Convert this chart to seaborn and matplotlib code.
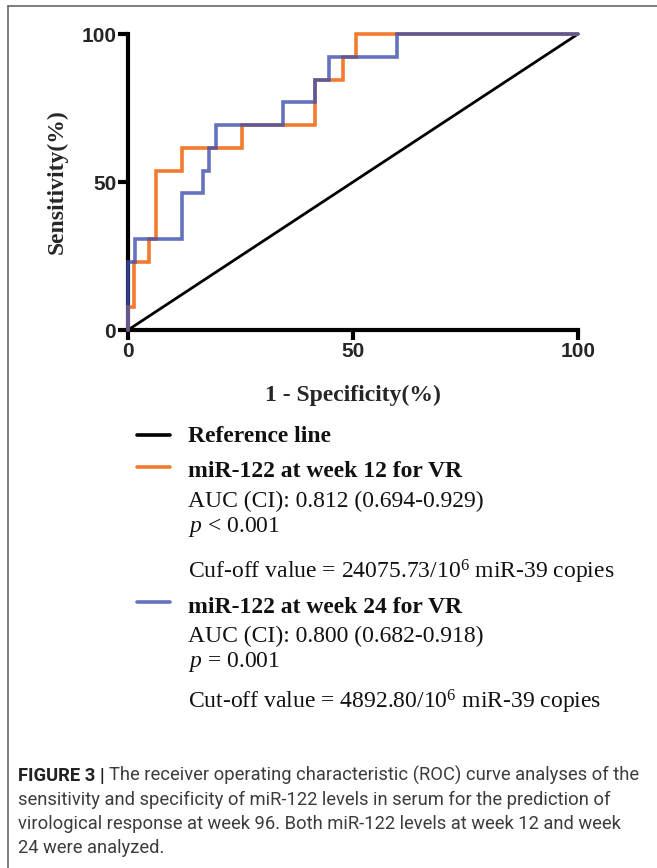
import matplotlib
matplotlib.use("Agg")
import matplotlib.pyplot as plt
from matplotlib.lines import Line2D
import seaborn as sns

# ---- data (ROC curve vertices) ----
ref_fpr = [0, 100]
ref_tpr = [0, 100]

wk12_fpr = [0, 0, 1.3, 1.3, 4.7, 4.7, 6.2, 6.2, 11.9, 11.9, 25.4, 25.4, 41.6, 41.6,
            47.8, 47.8, 50.7, 50.7, 100]
wk12_tpr = [0, 7.7, 7.7, 23.1, 23.1, 30.8, 30.8, 53.8, 53.8, 61.5, 61.5, 69.2, 69.2,
            84.6, 84.6, 92.3, 92.3, 100, 100]

wk24_fpr = [0, 0, 1.5, 1.5, 12.1, 12.1, 16.6, 16.6, 18.1, 18.1, 19.6, 19.6, 34.5, 34.5,
            41.6, 41.6, 44.7, 44.7, 59.7, 59.7, 100]
wk24_tpr = [0, 23.1, 23.1, 30.8, 30.8, 46.2, 46.2, 53.8, 53.8, 61.5, 61.5, 69.2, 69.2,
            76.9, 76.9, 84.6, 84.6, 92.3, 92.3, 100, 100]

x_ticks = [0, 50, 100]
y_ticks = [0, 50, 100]

W, H = 657, 868
sns.set_theme(style="white")
plt.rcParams['font.family'] = ['Liberation Serif', 'DejaVu Serif']
plt.rcParams['mathtext.fontset'] = 'custom'
plt.rcParams['mathtext.rm'] = 'Liberation Serif'
plt.rcParams['mathtext.it'] = 'Liberation Serif:italic'
plt.rcParams['mathtext.bf'] = 'Liberation Serif:bold'

fig = plt.figure(figsize=(W / 100, H / 100), dpi=100)
fig.patch.set_facecolor('white')

def fx(px):
    return px / W

def fy(py):
    return 1 - py / H

ax = fig.add_axes([fx(128), fy(330), 450 / W, 296 / H])
ax.set_facecolor('white')

ORANGE = '#F47B2E'
BLUE = '#3E50AE'
BLUE_ALPHA = 0.8

sns.lineplot(x=ref_fpr, y=ref_tpr, sort=False, estimator=None, ax=ax,
             color='black', lw=2.0)
sns.lineplot(x=wk12_fpr, y=wk12_tpr, sort=False, estimator=None, ax=ax,
             color=ORANGE, lw=2.6)
sns.lineplot(x=wk24_fpr, y=wk24_tpr, sort=False, estimator=None, ax=ax,
             color=BLUE, lw=2.6, alpha=BLUE_ALPHA)
for ln in ax.lines:
    ln.set_clip_on(False)
    ln.set_solid_capstyle('round')
    ln.set_solid_joinstyle('miter')

ax.set_xlim(0, 100)
ax.set_ylim(0, 100)
ax.set_xticks(x_ticks)
ax.set_yticks(y_ticks)
for s in ['top', 'right']:
    ax.spines[s].set_visible(False)
for s in ['left', 'bottom']:
    ax.spines[s].set_linewidth(3.0)
    ax.spines[s].set_color('black')
    ax.spines[s].set_zorder(0.5)
ax.tick_params(axis='both', direction='out', length=7, width=3.0, color='black',
               labelsize=15, pad=1.5, left=True, bottom=True)
for lab in ax.get_xticklabels() + ax.get_yticklabels():
    lab.set_fontfamily('Liberation Sans')
    lab.set_fontweight('bold')
ax.set_xlabel('1 - Specificity(%)', fontsize=17, fontweight='bold')
ax.set_ylabel('Sensitivity(%)', fontsize=17, fontweight='bold')
ax.xaxis.set_label_coords(0.5, (330 - 395) / 296)
ax.yaxis.set_label_coords((57 - 128) / 450, 0.5)
ax.xaxis.label.set_va('center')
ax.yaxis.label.set_va('center')

# ---- legend block ----
lx0, lx1, tx = 137, 170, 188
for yy, col, a in [(435, 'black', 1.0), (467, ORANGE, 1.0), (602, BLUE, BLUE_ALPHA)]:
    fig.add_artist(Line2D([fx(lx0), fx(lx1)], [fy(yy), fy(yy)], color=col, lw=2.6,
                          alpha=a, transform=fig.transFigure))

FS = 17
entries = [
    (442, 'Reference line', 'bold'),
    (477, 'miR-122 at week 12 for VR', 'bold'),
    (507, 'AUC (CI): 0.812 (0.694-0.929)', 'normal'),
    (532, r'$p$ < 0.001', 'normal'),
    (579, r'Cuf-off value = 24075.73/10$^{6}$ miR-39 copies', 'normal'),
    (613, 'miR-122 at week 24 for VR', 'bold'),
    (642, 'AUC (CI): 0.800 (0.682-0.918)', 'normal'),
    (667, r'$p$ = 0.001', 'normal'),
    (708, r'Cut-off value = 4892.80/10$^{6}$ miR-39 copies', 'normal'),
]
for yy, txt, w in entries:
    fig.text(fx(tx), fy(yy), txt, fontsize=FS, fontweight=w, va='baseline', ha='left',
             color='#111111')

# ---- frame ----
fig.add_artist(Line2D([fx(8), fx(8)], [fy(6), fy(H)], color='#666666', lw=1.2,
                      transform=fig.transFigure))
fig.add_artist(Line2D([fx(8), fx(W)], [fy(6), fy(6)], color='#666666', lw=1.2,
                      transform=fig.transFigure))

# ---- caption ----
cap_font = ['Roboto', 'DejaVu Sans']
CFS = 13.2
t_bold = fig.text(fx(18), fy(781), 'FIGURE 3 |', fontsize=CFS, fontweight='bold',
                  family=cap_font, color='#222222', va='baseline', ha='left')
fig.canvas.draw()
bb = t_bold.get_window_extent(renderer=fig.canvas.get_renderer())
fig.text(bb.x1 / W + fx(4), fy(781),
         'The receiver operating characteristic (ROC) curve analyses of the',
         fontsize=CFS, family=cap_font, color='#3c3c3c',
         va='baseline', ha='left')
cap_lines = [
    (805, 'sensitivity and specificity of miR-122 levels in serum for the prediction of'),
    (829, 'virological response at week 96. Both miR-122 levels at week 12 and week'),
    (853, '24 were analyzed.'),
]
for yy, txt in cap_lines:
    fig.text(fx(18), fy(yy), txt, fontsize=CFS, family=cap_font,
             color='#3c3c3c', va='baseline', ha='left')

fig.savefig('out.png', dpi=100, facecolor='white')
